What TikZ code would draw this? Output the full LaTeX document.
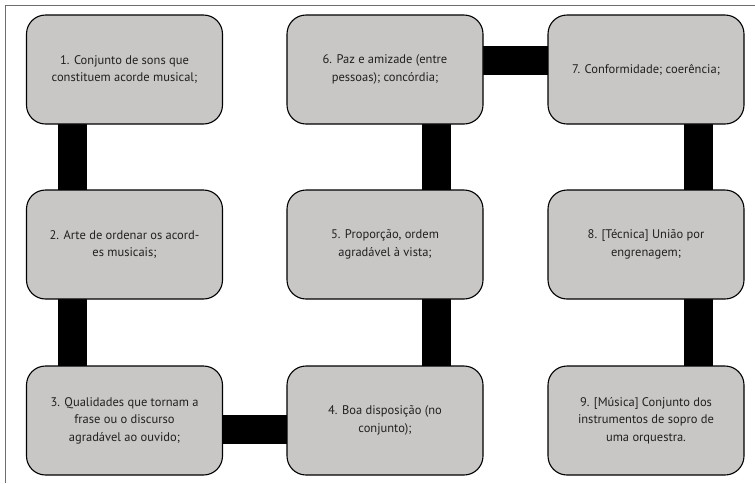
\documentclass[tikz,border=0pt]{standalone}
\usepackage{fontspec}
\setmainfont{PT Sans}
\usetikzlibrary{backgrounds,calc}
\definecolor{boxfill}{HTML}{C8C7C6}
\definecolor{txt}{HTML}{231F20}
\definecolor{framec}{HTML}{6E6E6E}
\tikzset{
  card/.style={draw=black, line width=1.1pt, fill=boxfill, rounded corners=19pt,
    minimum width=196pt, minimum height=109pt, align=center, text=txt,
    font=\fontsize{12.5pt}{17.5pt}\selectfont, inner sep=0pt},
  bar/.style={line width=29pt, draw=black}
}
\begin{document}
\begin{tikzpicture}[x=1pt,y=-1pt]
\useasboundingbox (0,0) rectangle (755,483);
\node[card] (b1) at (124.5,69.5) {1. Conjunto de sons que\\constituem acorde musical;};
\node[card] (b2) at (124.5,244.5) {2. Arte de ordenar os acord-\\es musicais;};
\node[card] (b3) at (124.5,420.5) {3. Qualidades que tornam a\\frase ou o discurso\\agradável ao ouvido;};
\node[card] (b4) at (385,420.5) {4. Boa disposição (no\\conjunto);};
\node[card] (b5) at (385,244.5) {5. Proporção, ordem\\agradável à vista;};
\node[card] (b6) at (385,69.5) {6. Paz e amizade (entre\\pessoas); concórdia;};
\node[card] (b7) at (646,69.5) {7. Conformidade; coerência;};
\node[card] (b8) at (646,244.5) {8. [Técnica] União por\\engrenagem;};
\node[card] (b9) at (646,420.5) {9. [Música] Conjunto dos\\instrumentos de sopro de\\uma orquestra.};
\begin{scope}[on background layer]
\draw[framec, line width=1pt] (5,483) -- (5,5) -- (755,5);
\draw[bar] ($(b1.center)+(-52,0)$) -- ($(b2.center)+(-52,0)$);
\draw[bar] ($(b2.center)+(-52,0)$) -- ($(b3.center)+(-52,0)$);
\draw[bar] ($(b3.center)+(0,9)$) -- ($(b4.center)+(0,9)$);
\draw[bar] ($(b4.center)+(51.5,0)$) -- ($(b5.center)+(51.5,0)$);
\draw[bar] ($(b5.center)+(51.5,0)$) -- ($(b6.center)+(51.5,0)$);
\draw[bar] ($(b6.center)+(0,-9.5)$) -- ($(b7.center)+(0,-9.5)$);
\draw[bar] ($(b7.center)+(52.5,0)$) -- ($(b8.center)+(52.5,0)$);
\draw[bar] ($(b8.center)+(52.5,0)$) -- ($(b9.center)+(52.5,0)$);
\end{scope}
\end{tikzpicture}
\end{document}
